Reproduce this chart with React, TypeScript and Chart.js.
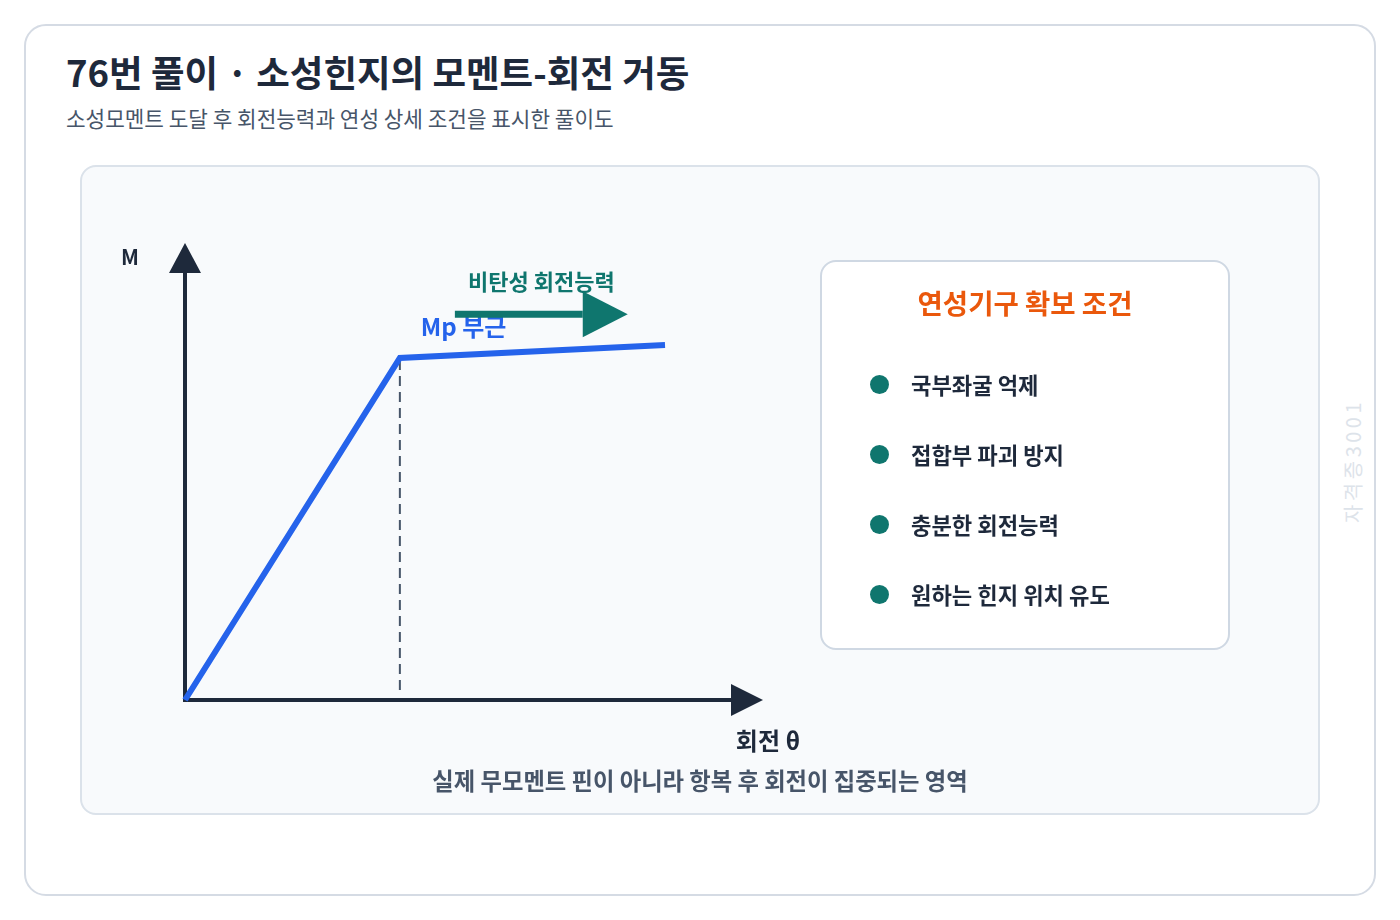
import React, { useEffect, useRef } from 'react';
import { Chart, registerables } from 'chart.js';

Chart.register(...registerables);

// M-θ curve of the plastic hinge (θ in units of θy, M in units of Mp)
const rotationTheta = [0, 1, 2.234];
const momentM = [0, 1, 1.038];

// inelastic rotation capacity arrow (shaft)
const arrowTheta = [1.256, 1.851];
const arrowM = [1.128, 1.128];

const thetaMax = 2.69;
const momentMax = 1.336;

const conditions = ['국부좌굴 억제', '접합부 파괴 방지', '충분한 회전능력', '원하는 힌지 위치 유도'];

const FONT = '"Noto Sans CJK KR", "Noto Sans", sans-serif';
const NAVY = '#1e293b';
const BLUE = '#2563eb';
const GREEN = '#0f766e';
const SLATE = '#475569';

const diagramPlugin = {
  id: 'diagram',
  beforeDatasetsDraw(chart: any) {
    const { ctx, scales } = chart;
    const xs = scales.x;
    const ys = scales.y;
    const x0 = xs.getPixelForValue(0);
    const y0 = ys.getPixelForValue(0);
    const xEnd = xs.getPixelForValue(thetaMax);
    const yTop = ys.getPixelForValue(momentMax);
    ctx.save();

    // axes
    ctx.strokeStyle = NAVY;
    ctx.fillStyle = NAVY;
    ctx.lineWidth = 4;
    ctx.beginPath();
    ctx.moveTo(x0, y0 + 2);
    ctx.lineTo(x0, yTop + 28);
    ctx.moveTo(x0 - 2, y0);
    ctx.lineTo(xEnd - 30, y0);
    ctx.stroke();
    ctx.beginPath();
    ctx.moveTo(x0, yTop);
    ctx.lineTo(x0 - 16, yTop + 30);
    ctx.lineTo(x0 + 16, yTop + 30);
    ctx.closePath();
    ctx.fill();
    ctx.beginPath();
    ctx.moveTo(xEnd, y0);
    ctx.lineTo(xEnd - 32, y0 - 16);
    ctx.lineTo(xEnd - 32, y0 + 16);
    ctx.closePath();
    ctx.fill();

    // yield rotation guide
    const xy = xs.getPixelForValue(rotationTheta[1]);
    ctx.strokeStyle = SLATE;
    ctx.lineWidth = 2;
    ctx.setLineDash([10, 6]);
    ctx.beginPath();
    ctx.moveTo(xy, ys.getPixelForValue(momentM[1]) + 2);
    ctx.lineTo(xy, y0 - 8);
    ctx.stroke();
    ctx.setLineDash([]);

    // labels
    ctx.textBaseline = 'middle';
    ctx.textAlign = 'center';
    ctx.fillStyle = NAVY;
    ctx.font = `bold 21px ${FONT}`;
    ctx.fillText('M', x0 - 55, yTop + 14);

    ctx.font = `bold 24px ${FONT}`;
    ctx.fillText('회전 θ', xEnd + 5, y0 + 41);

    const a0 = xs.getPixelForValue(arrowTheta[0]);
    const a1 = xs.getPixelForValue(arrowTheta[1]) + 45;
    const ay = ys.getPixelForValue(arrowM[0]);
    ctx.fillStyle = GREEN;
    ctx.font = `bold 22px ${FONT}`;
    ctx.fillText('비탄성 회전능력', (a0 + a1) / 2, ay - 33);

    ctx.textAlign = 'left';
    ctx.fillStyle = BLUE;
    ctx.font = `bold 24px ${FONT}`;
    ctx.fillText('Mp 부근', xy + 21, ys.getPixelForValue(momentM[1]) - 31);

    ctx.textAlign = 'center';
    ctx.fillStyle = SLATE;
    ctx.font = `bold 23.3px ${FONT}`;
    ctx.fillText('실제 무모멘트 핀이 아니라 항복 후 회전이 집중되는 영역', chart.width / 2, y0 + 81);
    ctx.restore();
  },
  afterDatasetsDraw(chart: any) {
    const { ctx, scales } = chart;
    const bx = scales.x.getPixelForValue(arrowTheta[1]);
    const by = scales.y.getPixelForValue(arrowM[1]);
    ctx.save();
    ctx.fillStyle = GREEN;
    ctx.beginPath();
    ctx.moveTo(bx + 45, by);
    ctx.lineTo(bx, by - 23);
    ctx.lineTo(bx, by + 23);
    ctx.closePath();
    ctx.fill();
    ctx.restore();
  },
};

const abs = (l: number, t: number, w: number, h: number): React.CSSProperties => ({
  position: 'absolute',
  left: l,
  top: t,
  width: w,
  height: h,
  boxSizing: 'border-box',
});

export default function App() {
  const canvasRef = useRef<HTMLCanvasElement>(null);

  useEffect(() => {
    if (!canvasRef.current) return;
    const chart = new Chart(canvasRef.current, {
      type: 'line',
      data: {
        datasets: [
          {
            label: 'M-θ',
            data: rotationTheta.map((t, i) => ({ x: t, y: momentM[i] })),
            borderColor: BLUE,
            borderWidth: 6,
            pointRadius: 0,
            tension: 0,
            borderJoinStyle: 'miter',
            clip: false,
          },
          {
            label: '비탄성 회전능력',
            data: arrowTheta.map((t, i) => ({ x: t, y: arrowM[i] })),
            borderColor: GREEN,
            borderWidth: 7,
            pointRadius: 0,
            clip: false,
          },
        ],
      },
      options: {
        responsive: false,
        animation: false,
        layout: { padding: { left: 105, right: 557, top: 78, bottom: 115 } },
        scales: {
          x: { type: 'linear', min: 0, max: thetaMax, display: false },
          y: { type: 'linear', min: 0, max: momentMax, display: false },
        },
        plugins: { legend: { display: false }, tooltip: { enabled: false } },
      },
      plugins: [diagramPlugin],
    });
    return () => chart.destroy();
  }, []);

  return (
    <div style={{ position: 'absolute', left: 0, top: 0, width: 1400, height: 920, fontFamily: FONT, background: '#fff' }}>
      <div style={{ ...abs(24, 24, 1352, 872), border: '2px solid #d5dbe4', borderRadius: 22, background: '#fff' }} />
      <div style={{ position: 'absolute', left: 66, top: 50, fontSize: 36.5, lineHeight: '44px', fontWeight: 700, color: NAVY, whiteSpace: 'nowrap' }}>
        76번 풀이 · 소성힌지의 모멘트-회전 거동
      </div>
      <div style={{ position: 'absolute', left: 66, top: 104, fontSize: 21.3, lineHeight: '28px', color: SLATE, whiteSpace: 'nowrap' }}>
        소성모멘트 도달 후 회전능력과 연성 상세 조건을 표시한 풀이도
      </div>
      <div style={{ ...abs(80, 165, 1240, 650), border: '2px solid #dbe2ea', borderRadius: 16, background: '#f8fafc' }} />
      <canvas ref={canvasRef} width={1240} height={650} style={{ position: 'absolute', left: 80, top: 165, display: 'block' }} />
      <div style={{ ...abs(820, 260, 410, 390), border: '2px solid #cfd8e3', borderRadius: 16, background: '#fff' }}>
        <div style={{ position: 'absolute', left: 0, right: 0, top: 22, textAlign: 'center', fontSize: 27.5, lineHeight: '36px', fontWeight: 700, color: '#ea580c' }}>
          연성기구 확보 조건
        </div>
        {conditions.map((c, i) => (
          <div key={c} style={{ position: 'absolute', left: 48, top: 107 + i * 70, height: 30, display: 'flex', alignItems: 'center' }}>
            <span style={{ width: 19, height: 19, borderRadius: '50%', background: GREEN, display: 'inline-block', flexShrink: 0 }} />
            <span style={{ marginLeft: 22, fontSize: 22.2, fontWeight: 700, color: NAVY, whiteSpace: 'nowrap' }}>{c}</span>
          </div>
        ))}
      </div>
      <div
        style={{
          position: 'absolute',
          left: 1352,
          top: 461,
          transform: 'translate(-50%, -50%) rotate(-90deg)',
          fontSize: 20,
          letterSpacing: 3.5,
          color: '#dde3ea',
          whiteSpace: 'nowrap',
        }}
      >
        자격증3001
      </div>
    </div>
  );
}
